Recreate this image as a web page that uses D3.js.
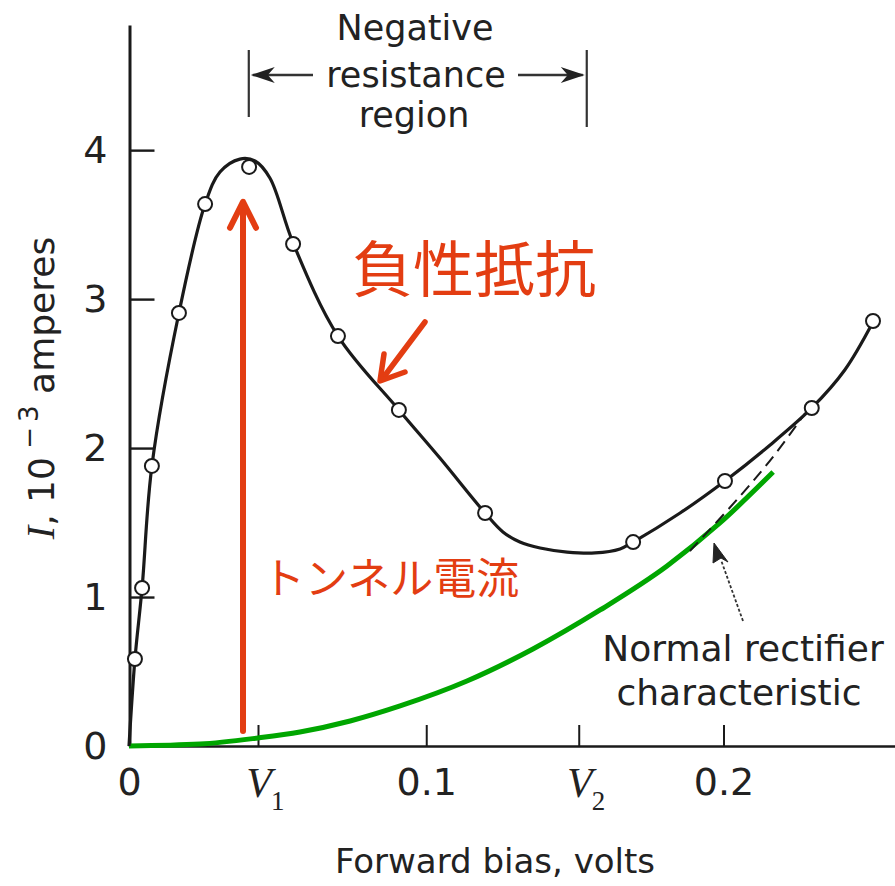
<!DOCTYPE html>
<html>
<head>
<meta charset="utf-8">
<script src="https://cdn.jsdelivr.net/npm/d3@7"></script>
<style>
  body { margin: 0; background: #fff; }
  svg { display: block; }
</style>
</head>
<body>
<svg id="chart" width="895" height="886"></svg>
<script>
// Tunnel diode I–V characteristic (forward bias in volts, current in mA)

// measured points (open circles)
const measuredV = [0.0020, 0.0044, 0.0077, 0.0168, 0.0256, 0.0404, 0.0552, 0.0703, 0.0908, 0.1198, 0.1696, 0.2005, 0.2297, 0.2503];
const measuredI = [0.584, 1.061, 1.880, 2.907, 3.638, 3.887, 3.370, 2.752, 2.256, 1.564, 1.369, 1.779, 2.269, 2.853];

// smooth characteristic drawn through the measurements
const curveV = [0, 0.0020, 0.0044, 0.0077, 0.0168, 0.0256, 0.0306, 0.0373, 0.0424, 0.0474, 0.0552, 0.0703, 0.0908, 0.1046, 0.1198, 0.1258, 0.1315, 0.1383, 0.1474, 0.1568, 0.1652, 0.1696, 0.1854, 0.2005, 0.2157, 0.2297, 0.2408, 0.2503];
const curveI = [0, 0.584, 1.061, 1.880, 2.907, 3.638, 3.853, 3.940, 3.927, 3.813, 3.377, 2.752, 2.256, 1.933, 1.564, 1.437, 1.369, 1.329, 1.302, 1.296, 1.323, 1.369, 1.564, 1.779, 2.021, 2.269, 2.524, 2.846];

// normal rectifier (diffusion) characteristic
const rectV = [0, 0.0239, 0.0434, 0.0575, 0.0744, 0.0912, 0.1137, 0.1359, 0.1585, 0.1810, 0.1988, 0.2167];
const rectI = [0, 0.013, 0.054, 0.094, 0.168, 0.269, 0.436, 0.651, 0.913, 1.208, 1.497, 1.839];

// dashed continuation of the rectifier characteristic
const dashV = [0.1887, 0.2056, 0.2174, 0.2275];
const dashI = [1.309, 1.678, 1.960, 2.235];

// characteristic voltages and region bounds
const V1 = 0.0434;
const V2 = 0.1513;
const regionBounds = [0.0403, 0.1540];

// axis ticks
const yTicks = [0, 1, 2, 3, 4];
const xTicks = [0, V1, 0.1, V2, 0.2];
const xTickLabels = ["0", "V1", "0.1", "V2", "0.2"];

const RED = "#e33d12";
const GREEN = "#00a600";
const INK = "#1a1a1a";
const SANS = "'DejaVu Sans', sans-serif";
const SERIF = "'Liberation Serif', 'DejaVu Serif', serif";
const CJK = "'Noto Sans CJK JP', 'Noto Sans CJK SC', sans-serif";

const svg = d3.select("#chart");

const x = d3.scaleLinear().domain([0, 0.2577]).range([129, 895]);
const y = d3.scaleLinear().domain([0, 4.84]).range([746, 25]);

// ---- axes ----
const yAxis = d3.axisLeft(y)
  .tickValues(yTicks)
  .tickFormat(d3.format("d"))
  .tickSizeInner(-25)
  .tickSizeOuter(0)
  .tickPadding(22);

const gy = svg.append("g")
  .attr("transform", "translate(129.5,0)")
  .call(yAxis);
gy.select(".domain").attr("stroke", INK).attr("stroke-width", 3);
gy.selectAll(".tick line").attr("stroke", INK).attr("stroke-width", 2.4);
gy.selectAll(".tick text")
  .attr("fill", "#222")
  .style("font-family", SANS)
  .style("font-size", "38px");

const xAxis = d3.axisBottom(x)
  .tickValues(xTicks)
  .tickFormat((d, i) => xTickLabels[i].startsWith("V") ? "" : xTickLabels[i])
  .tickSizeInner(-21)
  .tickSizeOuter(0)
  .tickPadding(22);

const gx = svg.append("g")
  .attr("transform", "translate(0,746)")
  .call(xAxis);
gx.select(".domain").attr("stroke", INK).attr("stroke-width", 2.6);
gx.selectAll(".tick line")
  .attr("stroke", INK).attr("stroke-width", 2)
  .attr("display", d => d === 0 ? "none" : null);
gx.selectAll(".tick text")
  .attr("fill", "#222")
  .style("font-family", SANS)
  .style("font-size", "38px");

// italic V with subscript for the characteristic voltages
[[V1, "1"], [V2, "2"]].forEach(([v, sub]) => {
  svg.append("text")
    .attr("x", x(v) + 1).attr("y", 797)
    .attr("text-anchor", "middle")
    .attr("fill", "#222")
    .style("font-family", SERIF).style("font-style", "italic")
    .style("font-size", "42px")
    .text("V");
  svg.append("text")
    .attr("x", x(v) + 13).attr("y", 810)
    .attr("fill", "#222")
    .style("font-family", SERIF)
    .style("font-size", "27px")
    .text(sub);
});

// axis titles
svg.append("text")
  .attr("x", 495).attr("y", 873)
  .attr("text-anchor", "middle")
  .attr("fill", "#222")
  .style("font-family", SANS).style("font-size", "34px")
  .text("Forward bias, volts");

const yTitle = svg.append("text")
  .attr("transform", "translate(54,388) rotate(-90)")
  .attr("text-anchor", "middle")
  .attr("fill", "#222")
  .style("font-family", SANS).style("font-size", "36px");
yTitle.append("tspan").style("font-family", SERIF).style("font-style", "italic").style("font-size", "40px").text("I");
yTitle.append("tspan").text(", 10");
yTitle.append("tspan").attr("dy", -16).style("font-size", "26px").text(" \u2212\u20093");
yTitle.append("tspan").attr("dy", 16).text(" amperes");

// ---- curves ----
const smooth = d3.line()
  .x(d => x(d[0]))
  .y(d => y(d[1]))
  .curve(d3.curveMonotoneX);

const spline = d3.line()
  .x(d => x(d[0]))
  .y(d => y(d[1]))
  .curve(d3.curveCatmullRom.alpha(0.5));

svg.append("path")
  .datum(rectV.map((v, i) => [v, rectI[i]]))
  .attr("d", smooth)
  .attr("fill", "none")
  .attr("stroke", GREEN)
  .attr("stroke-width", 5);

svg.append("path")
  .datum(dashV.map((v, i) => [v, dashI[i]]))
  .attr("d", spline)
  .attr("fill", "none")
  .attr("stroke", INK)
  .attr("stroke-width", 2)
  .attr("stroke-dasharray", "12 7");

svg.append("path")
  .datum(curveV.map((v, i) => [v, curveI[i]]))
  .attr("d", spline)
  .attr("fill", "none")
  .attr("stroke", INK)
  .attr("stroke-width", 3.2)
  .attr("stroke-linejoin", "round");

svg.append("g")
  .selectAll("circle")
  .data(measuredV.map((v, i) => [v, measuredI[i]]))
  .join("circle")
  .attr("cx", d => x(d[0]))
  .attr("cy", d => y(d[1]))
  .attr("r", 7)
  .attr("fill", "#fff")
  .attr("stroke", INK)
  .attr("stroke-width", 2);

// ---- negative resistance region marker ----
const xl = x(regionBounds[0]), xr = x(regionBounds[1]);
const ay = 75;
const mark = svg.append("g").attr("stroke", "#333").attr("fill", "none");
mark.append("line").attr("x1", xl).attr("x2", xl).attr("y1", 50).attr("y2", 117).attr("stroke-width", 2.2);
mark.append("line").attr("x1", xr).attr("x2", xr).attr("y1", 50).attr("y2", 127).attr("stroke-width", 2.2);
mark.append("line").attr("x1", xl + 4).attr("x2", 313).attr("y1", ay).attr("y2", ay).attr("stroke-width", 2.4);
mark.append("line").attr("x1", 518).attr("x2", xr - 4).attr("y1", ay).attr("y2", ay).attr("stroke-width", 2.4);
// barbed arrowheads
svg.append("path")
  .attr("d", `M${xl + 2},${ay} L${xl + 26},${ay - 8} L${xl + 19},${ay} L${xl + 26},${ay + 8} Z`)
  .attr("fill", "#222");
svg.append("path")
  .attr("d", `M${xr - 2},${ay} L${xr - 26},${ay - 8} L${xr - 19},${ay} L${xr - 26},${ay + 8} Z`)
  .attr("fill", "#222");

const regionText = svg.append("text")
  .attr("text-anchor", "middle")
  .attr("fill", "#222")
  .style("font-family", SANS).style("font-size", "35px");
regionText.append("tspan").attr("x", 415).attr("y", 40).text("Negative");
regionText.append("tspan").attr("x", 416).attr("y", 87).text("resistance");
regionText.append("tspan").attr("x", 414).attr("y", 127).text("region");

// ---- normal rectifier label and pointer ----
const rectText = svg.append("text")
  .attr("text-anchor", "middle")
  .attr("fill", "#222")
  .style("font-family", SANS).style("font-size", "36px");
rectText.append("tspan").attr("x", 743).attr("y", 661).text("Normal rectifier");
rectText.append("tspan").attr("x", 739).attr("y", 705).text("characteristic");

svg.append("line")
  .attr("x1", 743).attr("y1", 621).attr("x2", 721).attr("y2", 560)
  .attr("stroke", "#333").attr("stroke-width", 1.8)
  .attr("stroke-dasharray", "3 2");
svg.append("path")
  .attr("d", "M714,543 L728,562 L721,558 L713,563 Z")
  .attr("fill", "#222").attr("stroke", "#222").attr("stroke-width", 1);

// ---- red annotations ----
// tunnel current arrow at V1
const tunnelTop = y(3.66), tunnelBottom = y(0.10);
const xa = x(V1) - 15;
svg.append("line")
  .attr("x1", xa).attr("x2", xa)
  .attr("y1", tunnelBottom).attr("y2", tunnelTop + 3)
  .attr("stroke", RED).attr("stroke-width", 6).attr("stroke-linecap", "round");
svg.append("path")
  .attr("d", `M${xa - 13},${tunnelTop + 27} L${xa},${tunnelTop + 1} L${xa + 13},${tunnelTop + 27}`)
  .attr("fill", "none").attr("stroke", RED).attr("stroke-width", 6)
  .attr("stroke-linecap", "round").attr("stroke-linejoin", "round");

svg.append("text")
  .attr("x", 262).attr("y", 594)
  .attr("fill", RED)
  .style("font-family", CJK).style("font-size", "43px")
  .text("トンネル電流");

// negative resistance callout
svg.append("text")
  .attr("x", 352).attr("y", 292)
  .attr("fill", RED)
  .style("font-family", CJK).style("font-size", "61px")
  .text("負性抵抗");
svg.append("line")
  .attr("x1", 425).attr("y1", 322).attr("x2", 383).attr("y2", 378)
  .attr("stroke", RED).attr("stroke-width", 5.5).attr("stroke-linecap", "round");
svg.append("path")
  .attr("d", "M384,354 L380,381 L405,372")
  .attr("fill", "none").attr("stroke", RED).attr("stroke-width", 5.5)
  .attr("stroke-linecap", "round").attr("stroke-linejoin", "round");
</script>
</body>
</html>
